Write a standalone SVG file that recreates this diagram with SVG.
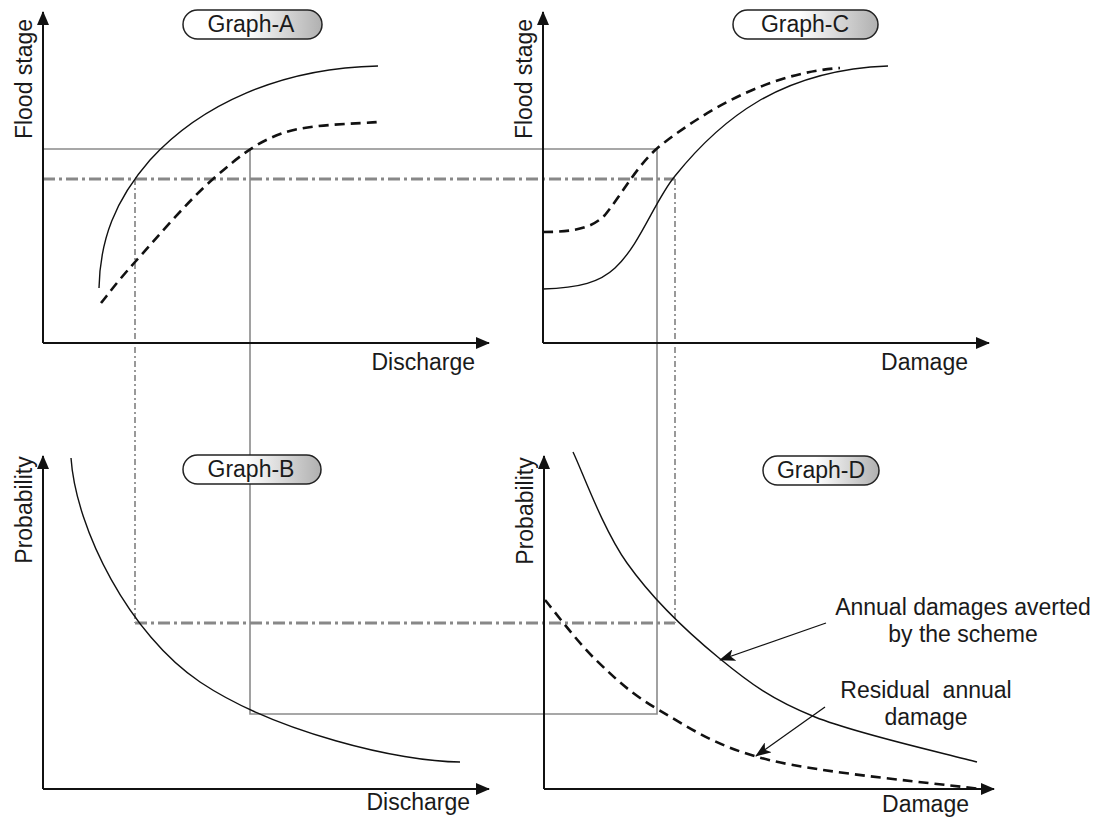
<svg xmlns="http://www.w3.org/2000/svg" width="1097" height="820" viewBox="0 0 1097 820">
<style>
text{font-family:"Liberation Sans",Arial,sans-serif;font-size:23px;fill:#1a1a1a}
.ax{stroke:#111;stroke-width:2;fill:none;marker-end:url(#axh)}
.sol{stroke:#111;stroke-width:1.4;fill:none}
.dsh{stroke:#111;stroke-width:2.6;fill:none;stroke-dasharray:10 6}
.gl{stroke:#8a8a8a;stroke-width:1.6;fill:none}
.dd{stroke:#888;stroke-width:3;fill:none;stroke-dasharray:12 4 3 4}
.dv{stroke:#999;stroke-width:2;fill:none;stroke-dasharray:6 3 2 3}
.pill{fill:url(#pg);stroke:#222;stroke-width:1.5}
.ann{stroke:#111;stroke-width:1.3;fill:none;marker-end:url(#anh)}
</style>
<defs>
<marker id="axh" markerUnits="userSpaceOnUse" markerWidth="14" markerHeight="12" refX="13" refY="6" orient="auto"><path d="M0,0 L14,6 L0,12 z" fill="#111"/></marker>
<marker id="anh" markerUnits="userSpaceOnUse" markerWidth="16" markerHeight="12" refX="15" refY="6" orient="auto"><path d="M0,0 L16,6 L0,12 L4,6 z" fill="#111"/></marker>
<linearGradient id="pg" x1="0" y1="0" x2="1" y2="0"><stop offset="0" stop-color="#fff"/><stop offset="0.45" stop-color="#fff"/><stop offset="1" stop-color="#b0b0b0"/></linearGradient>
</defs>
<rect width="1097" height="820" fill="#fff"/>

<g id="connectors">
<polyline class="gl" points="43,149 657,149 657,714 250,714 250,149"/>
<line class="dd" x1="43" y1="179" x2="675" y2="179"/>
<line class="dd" x1="135" y1="623" x2="675" y2="623"/>
<line class="dv" x1="675" y1="179" x2="675" y2="623"/>
<line class="dv" x1="135" y1="179" x2="135" y2="623"/>
</g>

<g id="graph-a">
<line class="ax" x1="43" y1="343" x2="43" y2="12"/>
<line class="ax" x1="43" y1="343" x2="489" y2="343"/>
<path class="sol" d="M99,288 C100,240 115,200 150,160 C200,105 280,68 378,66"/>
<path class="dsh" d="M101,303 C106.7,296.2 116.3,282.7 135,262 C153.7,241.3 188.3,200.5 213,179 C237.7,157.5 255.5,142.5 283,133 C310.5,123.5 362.2,123.8 378,122"/>
<text transform="translate(32,79) rotate(-90)" text-anchor="middle">Flood stage</text>
<text x="475" y="370" text-anchor="end">Discharge</text>
</g>
<g id="label-a"><rect class="pill" x="183" y="10" width="139" height="29" rx="14.5"/><text x="251" y="32" text-anchor="middle">Graph-A</text></g>

<g id="graph-c">
<line class="ax" x1="543" y1="343" x2="543" y2="12"/>
<line class="ax" x1="543" y1="343" x2="989" y2="343"/>
<path class="sol" d="M543,289 C580,288 600,282 615,268 C640,245 655,200 675,176 C720,120 780,70 888,66"/>
<path class="dsh" d="M543,232 C575,232 592,228 605,215 C625,190 640,160 665,142 C720,100 780,72 840,68"/>
<text transform="translate(532,79) rotate(-90)" text-anchor="middle">Flood stage</text>
<text x="968" y="370" text-anchor="end">Damage</text>
</g>
<g id="label-c"><rect class="pill" x="733" y="10" width="145" height="29" rx="14.5"/><text x="805" y="32" text-anchor="middle">Graph-C</text></g>

<g id="graph-b">
<line class="ax" x1="43" y1="789" x2="43" y2="456"/>
<line class="ax" x1="43" y1="789" x2="489" y2="789"/>
<path class="sol" d="M71,458 C76,530 130,635 200,682 C275,732 400,762 460,762"/>
<text transform="translate(32,510) rotate(-90)" text-anchor="middle">Probability</text>
<text x="470" y="810" text-anchor="end">Discharge</text>
</g>
<g id="label-b"><rect class="pill" x="183" y="455" width="138" height="29" rx="14.5"/><text x="251" y="477" text-anchor="middle">Graph-B</text></g>

<g id="graph-d">
<line class="ax" x1="544" y1="789" x2="544" y2="456"/>
<line class="ax" x1="544" y1="789" x2="994" y2="789"/>
<path class="sol" d="M573,452 C582,470.5 602.7,528.7 627,563 C651.3,597.3 687.7,632.3 719,658 C750.3,683.7 772,699.7 815,717 C858,734.3 950,754.5 977,762"/>
<path class="dsh" d="M545,600 C553.5,610 577,641.7 596,660 C615,678.3 630.2,693.3 659,710 C687.8,726.7 715.5,746.8 769,760 C822.5,773.2 944.8,784.2 980,789"/>
<text transform="translate(533,511) rotate(-90)" text-anchor="middle">Probability</text>
<text x="969" y="812" text-anchor="end">Damage</text>
</g>
<g id="label-d"><rect class="pill" x="763" y="456" width="116" height="29" rx="14.5"/><text x="821" y="478" text-anchor="middle">Graph-D</text></g>

<g id="annotation-averted">
<line class="ann" x1="826" y1="623" x2="720" y2="660"/>
<text x="963" y="615" text-anchor="middle">Annual damages averted</text>
<text x="963" y="642" text-anchor="middle">by the scheme</text>
</g>
<g id="annotation-residual">
<line class="ann" x1="825" y1="707" x2="756" y2="756"/>
<text x="926" y="698" text-anchor="middle" xml:space="preserve">Residual  annual</text>
<text x="926" y="725" text-anchor="middle">damage</text>
</g>
</svg>
